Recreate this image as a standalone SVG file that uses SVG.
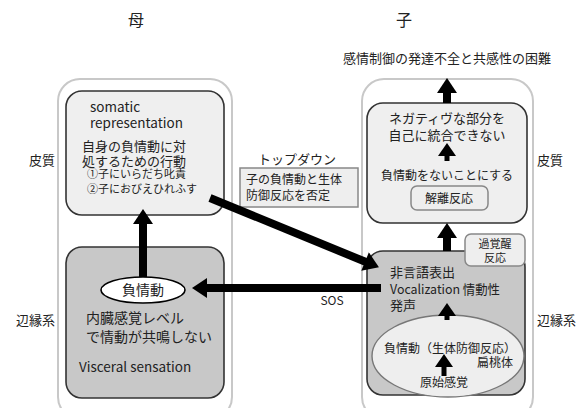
<svg xmlns="http://www.w3.org/2000/svg" width="581" height="408" viewBox="0 0 581 408">
<defs>
<style>
text{font-family:"Noto Sans CJK JP","Noto Sans",sans-serif;fill:#222;}
.outer{fill:#fff;stroke:#c8c8c8;stroke-width:2;}
.cortex{fill:#efefef;stroke:#333;stroke-width:1.6;}
.limbic{fill:#c8c8c8;stroke:#333;stroke-width:1.6;}
.tag{fill:#eeeeee;stroke:#888;stroke-width:1.5;}
.t14{font-size:14px;}
.t13{font-size:13px;}
.t12{font-size:12px;}
.t11{font-size:11px;}
.sh{stroke:#000;stroke-width:8;fill:none;}
.shs{stroke:#000;stroke-width:5;fill:none;}
</style>
<marker id="ah" markerUnits="userSpaceOnUse" markerWidth="20" markerHeight="20" viewBox="0 0 16 20" refX="1" refY="10" orient="auto">
<path d="M0,0 L15,10 L0,20 z" fill="#000"/>
</marker>
<marker id="ahs" markerUnits="userSpaceOnUse" markerWidth="18" markerHeight="18" viewBox="0 0 14 18" refX="1" refY="9" orient="auto">
<path d="M0,0 L13,9 L0,18 z" fill="#000"/>
</marker>
</defs>

<g id="titles">
<text x="136" y="26" text-anchor="middle" style="font-size:16px">母</text>
<text x="404" y="26" text-anchor="middle" style="font-size:16px">子</text>
<text x="447" y="63" class="t13" text-anchor="middle">感情制御の発達不全と共感性の困難</text>
</g>

<g id="side-labels">
<text x="55" y="165" class="t13" text-anchor="end">皮質</text>
<text x="55" y="325" class="t13" text-anchor="end">辺縁系</text>
<text x="537" y="165" class="t13">皮質</text>
<text x="537" y="325" class="t13">辺縁系</text>
</g>

<g id="mother-container">
<rect class="outer" x="58" y="79" width="174" height="340" rx="22"/>
</g>
<g id="child-container">
<rect class="outer" x="362" y="79" width="171" height="340" rx="22"/>
</g>

<g id="mother-cortex">
<rect class="cortex" x="66" y="91" width="158" height="124" rx="16"/>
<text x="90" y="112" style="font-size:13.5px">somatic</text>
<text x="90" y="128" style="font-size:13.5px">representation</text>
<text x="82" y="151" class="t13">自身の負情動に対</text>
<text x="82" y="165.5" class="t13">処するための行動</text>
<text x="87" y="178" class="t11">①子にいらだち叱責</text>
<text x="87" y="192.5" class="t11">②子におびえひれふす</text>
</g>

<g id="mother-limbic">
<rect class="limbic" x="66" y="247" width="158" height="151" rx="16"/>
<ellipse cx="143" cy="290" rx="42" ry="13" fill="#fff" stroke="#000" stroke-width="1.6"/>
<text x="143" y="295" class="t14" text-anchor="middle">負情動</text>
<text x="86" y="323" class="t14">内臓感覚レベル</text>
<text x="86" y="342" class="t14">で情動が共鳴しない</text>
<text x="79" y="372" style="font-size:13.5px">Visceral sensation</text>
</g>

<g id="topdown">
<text x="297" y="164" class="t13" text-anchor="middle">トップダウン</text>
<rect class="tag" x="240" y="168" width="118" height="39" rx="0"/>
<text x="246" y="184" class="t12">子の負情動と生体</text>
<text x="246" y="200" class="t12">防御反応を否定</text>
</g>

<g id="sos">
<text x="332" y="305" class="t12" text-anchor="middle">SOS</text>
</g>

<g id="child-cortex">
<rect class="cortex" x="367" y="103" width="160" height="120" rx="16"/>
<text x="447" y="123" class="t13" text-anchor="middle">ネガティヴな部分を</text>
<text x="447" y="140" class="t13" text-anchor="middle">自己に統合できない</text>
<text x="447" y="180" class="t12" text-anchor="middle">負情動をないことにする</text>
<rect class="tag" x="411" y="186" width="77" height="24" rx="6"/>
<text x="449" y="202.5" class="t12" text-anchor="middle">解離反応</text>
</g>

<g id="child-limbic">
<rect class="limbic" x="367" y="251" width="158" height="144" rx="16"/>
<text x="390" y="277" class="t13">非言語表出</text>
<text x="390" y="294" class="t13" textLength="110" lengthAdjust="spacingAndGlyphs">Vocalization 情動性</text>
<text x="390" y="310" class="t13">発声</text>
<ellipse cx="448" cy="356" rx="76" ry="41" fill="#eeeeee" stroke="#777" stroke-width="1.4"/>
<text x="384" y="353" class="t12">負情動（生体防御反応）</text>
<text x="477" y="367" class="t12">扁桃体</text>
<text x="444" y="387" class="t12" text-anchor="middle">原始感覚</text>
</g>

<g id="hyperarousal">
<rect class="tag" x="465" y="234" width="60" height="32" rx="6"/>
<text x="495" y="248" class="t11" text-anchor="middle">過覚醒</text>
<text x="495" y="262" class="t11" text-anchor="middle">反応</text>
</g>

<g id="connectors">
<line class="sh" x1="143" y1="277" x2="143" y2="223" marker-end="url(#ah)"/>
<line class="sh" x1="381" y1="288" x2="206" y2="288" marker-end="url(#ah)"/>
<line class="sh" x1="210" y1="198" x2="366" y2="262" marker-end="url(#ah)"/>
<line class="sh" x1="447" y1="251" x2="447" y2="237" marker-end="url(#ah)"/>
<line class="sh" x1="447" y1="103" x2="447" y2="92" marker-end="url(#ah)"/>
<line class="shs" x1="447" y1="161" x2="447" y2="155" marker-end="url(#ahs)"/>
<line class="shs" x1="447" y1="320" x2="447" y2="315" marker-end="url(#ahs)"/>
<line class="shs" x1="444" y1="376" x2="444" y2="366" marker-end="url(#ahs)"/>
</g>
</svg>
